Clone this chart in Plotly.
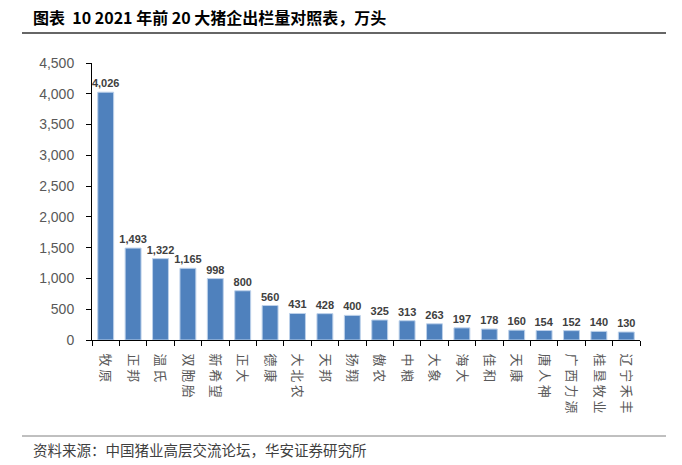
import plotly.graph_objects as go

companies = ["牧原", "正邦", "温氏", "双胞胎", "新希望", "正大", "德康", "大北农", "天邦", "扬翔",
             "傲农", "中粮", "大象", "海大", "佳和", "天康", "唐人神", "广西力源", "桂垦牧业", "辽宁禾丰"]
output_2021 = [4026, 1493, 1322, 1165, 998, 800, 560, 431, 428, 400,
               325, 313, 263, 197, 178, 160, 154, 152, 140, 130]
y_ticks = [0, 500, 1000, 1500, 2000, 2500, 3000, 3500, 4000, 4500]

title_text = "图表  10 2021 年前 20 大猪企出栏量对照表，万头"
source_text = "资料来源：中国猪业高层交流论坛，华安证券研究所"

W, H = 682, 465
ml, mr, mt, mb = 92, 42, 63, 125
pw, ph = W - ml - mr, H - mt - mb

def px_x(x):
    return (x - ml) / pw

def px_y(y):
    return (H - mb - y) / ph

# spread the characters a little, like the original
spaced = ["\u2009".join(c) for c in companies]

fig = go.Figure()
fig.add_trace(go.Bar(
    x=spaced, y=output_2021,
    marker=dict(color="#4F81BD", line=dict(color="#BDD1EA", width=1)),
    width=0.58,
    text=[f"{v:,}" for v in output_2021],
    textposition="outside",
    constraintext="none",
    textfont=dict(family="Liberation Sans, Arial", size=11, color="#404040", weight="bold"),
    cliponaxis=False,
))

fig.update_layout(
    width=W, height=H,
    margin=dict(l=ml, r=mr, t=mt, b=mb, autoexpand=False),
    paper_bgcolor="white", plot_bgcolor="white",
    showlegend=False,
    xaxis=dict(
        type="category", tickangle=90,
        showline=True, linecolor="black", linewidth=1,
        ticks="outside", ticklen=5, tickcolor="black", tickson="boundaries",
        ticklabelstandoff=10,
        tickfont=dict(family="Noto Sans CJK SC", size=13, color="#595959"),
        showgrid=False,
    ),
    yaxis=dict(
        range=[0, 4500], tickvals=y_ticks, tickformat=",",
        showline=True, linecolor="black", linewidth=1,
        ticks="outside", ticklen=5, tickcolor="black",
        ticklabelstandoff=9,
        tickfont=dict(family="Liberation Sans, Arial", size=14, color="#595959"),
        showgrid=False, zeroline=False,
    ),
    shapes=[
        dict(type="line", xref="paper", yref="paper",
             x0=px_x(22), x1=px_x(666), y0=px_y(33), y1=px_y(33),
             line=dict(color="#333333", width=1.5)),
        dict(type="line", xref="paper", yref="paper",
             x0=px_x(22), x1=px_x(666), y0=px_y(436), y1=px_y(436),
             line=dict(color="#808080", width=1)),
    ],
    annotations=[
        dict(text=title_text, xref="paper", yref="paper",
             x=px_x(31), y=px_y(17), xanchor="left", yanchor="middle", showarrow=False,
             font=dict(family="Noto Sans CJK SC", size=16, color="black", weight="bold")),
        dict(text=source_text, xref="paper", yref="paper",
             x=px_x(31), y=px_y(450), xanchor="left", yanchor="middle", showarrow=False,
             font=dict(family="Noto Sans CJK SC", size=14.5, color="#3F3F3F")),
    ],
)

fig.write_html("out.html", config={"displayModeBar": False},
               post_script="document.body.style.margin='0';")
